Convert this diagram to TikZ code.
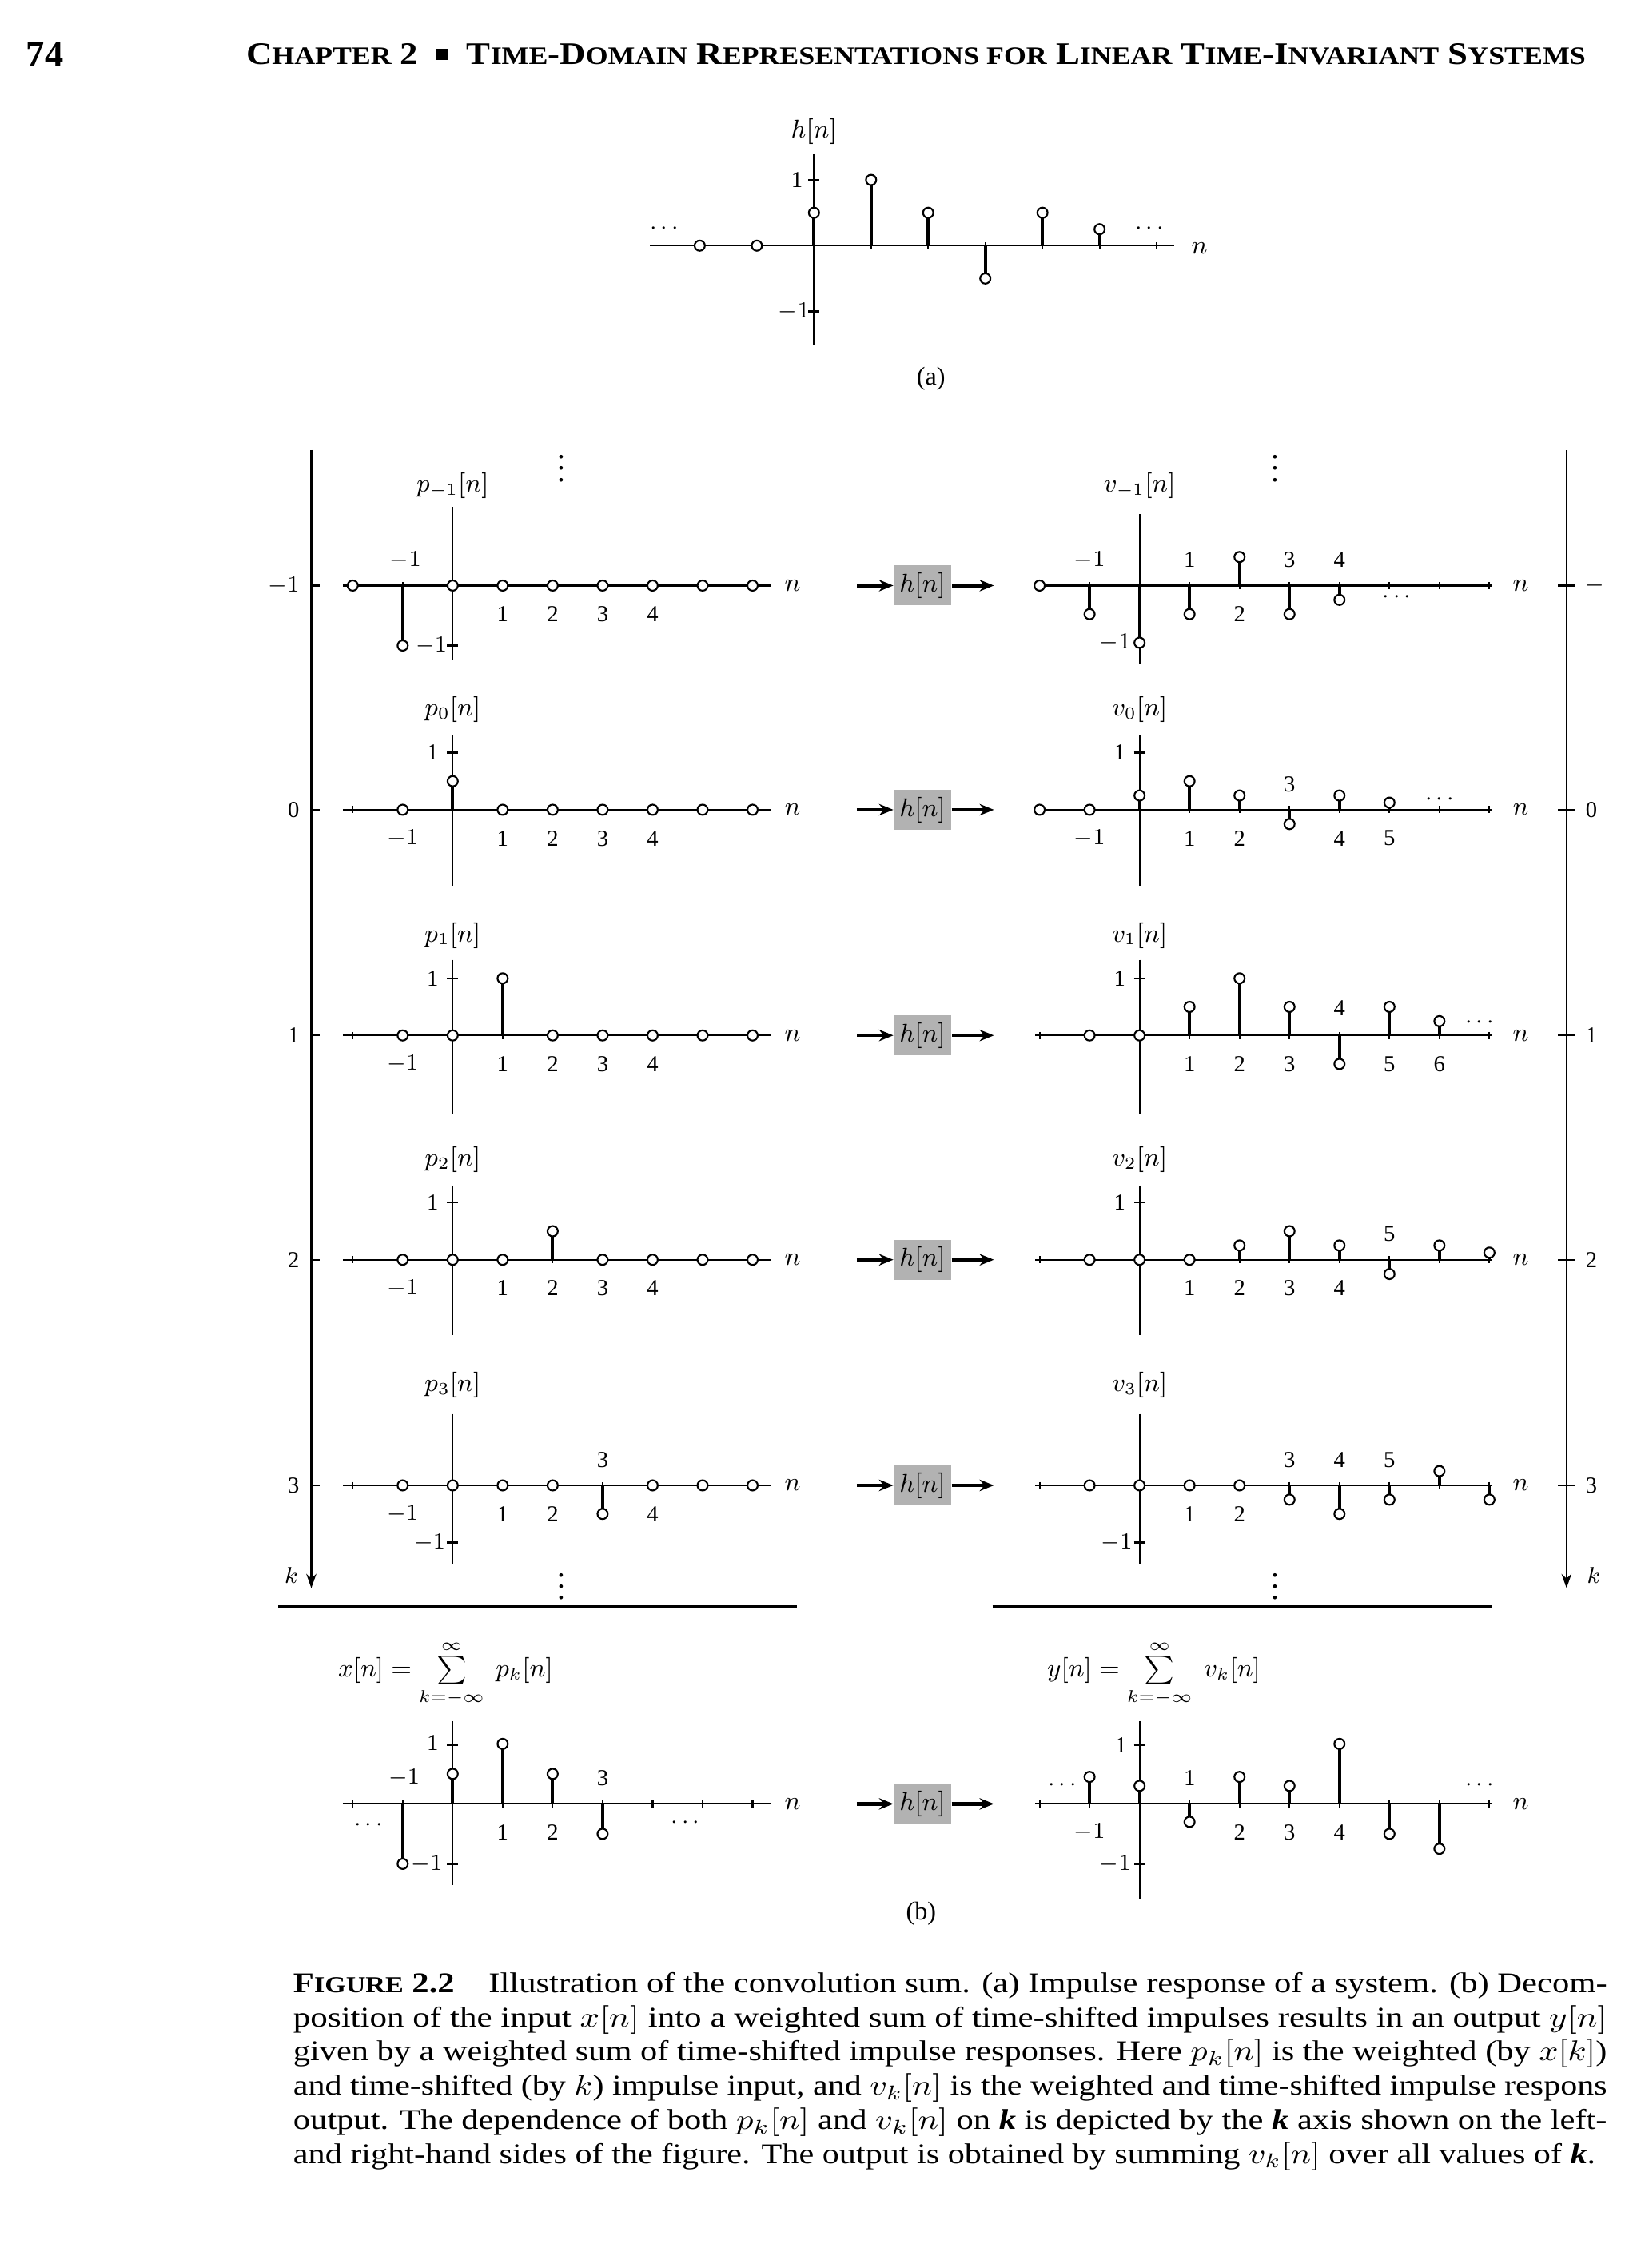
\documentclass[tikz,border=0pt]{standalone}
\usepackage{fontspec}
\setmainfont{Liberation Serif}
\usetikzlibrary{arrows.meta}
\tikzset{
  ax/.style={line width=0.6pt},
  stm/.style={line width=1.1pt},
  dot/.style={circle,draw,fill=white,inner sep=0pt,minimum size=3.6pt,line width=0.6pt},
  lab/.style={font=\fontsize{8}{9}\selectfont,inner sep=0pt},
  sysbox/.style={fill=gray!60,minimum width=20pt,minimum height=14pt,inner sep=1pt,font=\fontsize{9}{10}\selectfont},
  sarr/.style={-{Stealth[length=5pt,width=4pt]},line width=1.2pt},
  kax/.style={line width=0.7pt,-{Stealth[length=5pt,width=3.5pt]}},
  captxt/.style={anchor=west,inner sep=0pt,font=\fontsize{10}{12}\selectfont}
}
\newcommand\bk{\textbf{\textit{k}}}
\newcommand\sct[2]{#1{\scalebox{0.8}{#2}}}
% #1 ox, #2 oy, #3 spacing, #4 amplitude, #5 list n/v
\newcommand\stemrow[5]{%
  \foreach \n/\v in {#5}{%
    \draw[stm] ({#1+#3*\n},#2) -- ({#1+#3*\n},{#2-#4*\v}) node[dot]{};
  }%
}
\newcommand\tickrow[4]{% ox oy spacing list
  \foreach \n in {#4}{\draw[ax] ({#1+#3*\n},{#2-2.5}) -- ({#1+#3*\n},{#2+2.5});}%
}
\begin{document}
\begin{tikzpicture}[x=0.5pt,y=-0.5pt]
\useasboundingbox (0,0) rectangle (1146,1588);
% header
\node[anchor=west,inner sep=0pt,font=\bfseries\fontsize{13}{14}\selectfont] (pg) at (18,38) {74};
\node[anchor=west,inner sep=0pt,font=\bfseries\fontsize{11}{12}\selectfont] (hd) at (172,38) {\resizebox{469pt}{\height}{\sct{C}{HAPTER} 2 \ \raisebox{0.15em}{\rule{0.35em}{0.35em}} \ \sct{T}{IME}-\sct{D}{OMAIN} \sct{R}{EPRESENTATIONS FOR} \sct{L}{INEAR} \sct{T}{IME}-\sct{I}{NVARIANT} \sct{S}{YSTEMS}}};
% ---------- (a)
\draw[ax] (455,172) -- (822,172);
\draw[ax] (570,108) -- (570,242);
\draw[ax] (566,126) -- (574,126);
\draw[ax] (566,218) -- (574,218);
\node[lab] at (558,126) {1};
\node[lab] at (556,218) {$-1$};
\node[lab,font=\fontsize{9}{10}\selectfont] at (570,92) {$h[n]$};
\node[lab,font=\fontsize{9}{10}\selectfont] at (840,174) {$n$};
\tickrow{570}{172}{40}{-2,...,6}
\stemrow{570}{172}{40}{46}{-2/0,-1/0,0/0.5,1/1,2/0.5,3/-0.5,4/0.5,5/0.25}
\node[lab] at (465,160) {$\cdots$};
\node[lab] at (805,160) {$\cdots$};
\node[lab,font=\fontsize{9}{10}\selectfont] at (652,265) {(a)};
% ---------- k axes
\draw[kax] (218,315) -- (218,1112);
\draw[kax] (1097,315) -- (1097,1112);
\foreach \y/\t in {410/$-1$,567/0,725/1,882/2,1040/3}{
  \draw[ax] (218,\y) -- (224,\y);
  \node[lab,anchor=east] at (210,\y) {\t};
  \draw[ax] (1091,\y) -- (1103,\y);
}
\foreach \y/\t in {567/0,725/1,882/2,1040/3}{\node[lab,anchor=west] at (1110,\y) {\t};}
\node[lab,anchor=west] at (1110,410) {$-$};
\node[lab] at (204,1103) {$k$};
\node[lab] at (1116,1103) {$k$};
% vertical dots
\foreach \x/\y in {393/322,893/322,393/1105,893/1105}{\node[lab,font=\fontsize{11}{11}\selectfont] at (\x,\y) {$\vdots$};}
% ---------- left rows
\foreach \oy/\ya/\yb in {410/355/462,567/515/620,725/672/780,882/830/935,1040/990/1095}{
  \draw[ax] (240,\oy) -- (540,\oy);
  \draw[ax] (317,\ya) -- (317,\yb);
  \node[lab,font=\fontsize{9}{10}\selectfont] at (555,\oy) {$n$};
  \tickrow{317}{\oy}{35}{-2,...,6}
}
% right rows
\foreach \oy/\ya/\yb in {410/360/465,567/515/620,725/672/780,882/830/935,1040/990/1095}{
  \draw[ax] (725,\oy) -- (1045,\oy);
  \draw[ax] (798,\ya) -- (798,\yb);
  \node[lab,font=\fontsize{9}{10}\selectfont] at (1065,\oy) {$n$};
  \tickrow{798}{\oy}{35}{-2,...,7}
}
% middle systems
\foreach \oy [count=\i] in {410,567,725,882,1040,1263}{
  \node[sysbox] (h\i) at (646,\oy) {$h[n]$};
  \coordinate (ai\i) at (600,\oy);
  \coordinate (ao\i) at (696,\oy);
  \draw[sarr] (ai\i) -- (h\i.west);
  \draw[sarr] (h\i.east) -- (ao\i);
}
% row -1 left
\stemrow{317}{410}{35}{42}{-2/0,-1/-1,0/0,1/0,2/0,3/0,4/0,5/0,6/0}
\node[lab] at (284,392) {$-1$};
\foreach \n in {1,2,3,4}{\node[lab] at ({317+35*\n},430) {\n};}
\draw[ax] (313,452) -- (321,452);
\node[lab] at (302,452) {$-1$};
\node[lab,font=\fontsize{9}{10}\selectfont] at (317,340) {$p_{-1}[n]$};
% row 0 left
\stemrow{317}{567}{35}{40}{-1/0,0/0.5,1/0,2/0,3/0,4/0,5/0,6/0}
\foreach \n/\t in {-1/$-1$,1/1,2/2,3/3,4/4}{\node[lab] at ({317+35*\n},587) {\t};}
\draw[ax] (313,527) -- (321,527);
\node[lab] at (303,527) {1};
\node[lab,font=\fontsize{9}{10}\selectfont] at (317,497) {$p_0[n]$};
% row 1 left
\stemrow{317}{725}{35}{40}{-1/0,0/0,1/1,2/0,3/0,4/0,5/0,6/0}
\foreach \n/\t in {-1/$-1$,1/1,2/2,3/3,4/4}{\node[lab] at ({317+35*\n},745) {\t};}
\draw[ax] (313,685) -- (321,685);
\node[lab] at (303,685) {1};
\node[lab,font=\fontsize{9}{10}\selectfont] at (317,655) {$p_1[n]$};
% row 2 left
\stemrow{317}{882}{35}{40}{-1/0,0/0,1/0,2/0.5,3/0,4/0,5/0,6/0}
\foreach \n/\t in {-1/$-1$,1/1,2/2,3/3,4/4}{\node[lab] at ({317+35*\n},902) {\t};}
\draw[ax] (313,842) -- (321,842);
\node[lab] at (303,842) {1};
\node[lab,font=\fontsize{9}{10}\selectfont] at (317,812) {$p_2[n]$};
% row 3 left
\stemrow{317}{1040}{35}{40}{-1/0,0/0,1/0,2/0,3/-0.5,4/0,5/0,6/0}
\foreach \n/\t in {-1/$-1$,1/1,2/2,4/4}{\node[lab] at ({317+35*\n},1060) {\t};}
\node[lab] at (422,1022) {3};
\draw[ax] (313,1080) -- (321,1080);
\node[lab] at (301,1080) {$-1$};
\node[lab,font=\fontsize{9}{10}\selectfont] at (317,970) {$p_3[n]$};
% row -1 right
\stemrow{798}{410}{35}{40}{-2/0,-1/-0.5,0/-1,1/-0.5,2/0.5,3/-0.5,4/-0.25}
\foreach \n/\t in {-1/$-1$,1/1,3/3,4/4}{\node[lab] at ({798+35*\n},392) {\t};}
\node[lab] at (868,430) {2};
\node[lab] at (978,418) {$\cdots$};
\node[lab] at (781,450) {$-1$};
\node[lab,font=\fontsize{9}{10}\selectfont] at (798,340) {$v_{-1}[n]$};
% row 0 right
\stemrow{798}{567}{35}{40}{-2/0,-1/0,0/0.25,1/0.5,2/0.25,3/-0.25,4/0.25,5/0.125}
\foreach \n/\t in {-1/$-1$,1/1,2/2,4/4,5/5}{\node[lab] at ({798+35*\n},587) {\t};}
\node[lab] at (903,549) {3};
\node[lab] at (1008,560) {$\cdots$};
\draw[ax] (794,527) -- (802,527);
\node[lab] at (784,527) {1};
\node[lab,font=\fontsize{9}{10}\selectfont] at (798,497) {$v_0[n]$};
% row 1 right
\stemrow{798}{725}{35}{40}{-1/0,0/0,1/0.5,2/1,3/0.5,4/-0.5,5/0.5,6/0.25}
\foreach \n/\t in {1/1,2/2,3/3,5/5,6/6}{\node[lab] at ({798+35*\n},745) {\t};}
\node[lab] at (938,706) {4};
\node[lab] at (1036,716) {$\cdots$};
\draw[ax] (794,685) -- (802,685);
\node[lab] at (784,685) {1};
\node[lab,font=\fontsize{9}{10}\selectfont] at (798,655) {$v_1[n]$};
% row 2 right
\stemrow{798}{882}{35}{40}{-1/0,0/0,1/0,2/0.25,3/0.5,4/0.25,5/-0.25,6/0.25,7/0.125}
\foreach \n/\t in {1/1,2/2,3/3,4/4}{\node[lab] at ({798+35*\n},902) {\t};}
\node[lab] at (973,864) {5};
\draw[ax] (794,842) -- (802,842);
\node[lab] at (784,842) {1};
\node[lab,font=\fontsize{9}{10}\selectfont] at (798,812) {$v_2[n]$};
% row 3 right
\stemrow{798}{1040}{35}{40}{-1/0,0/0,1/0,2/0,3/-0.25,4/-0.5,5/-0.25,6/0.25,7/-0.25}
\foreach \n/\t in {1/1,2/2}{\node[lab] at ({798+35*\n},1060) {\t};}
\foreach \n/\t in {3/3,4/4,5/5}{\node[lab] at ({798+35*\n},1022) {\t};}
\draw[ax] (794,1080) -- (802,1080);
\node[lab] at (782,1080) {$-1$};
\node[lab,font=\fontsize{9}{10}\selectfont] at (798,970) {$v_3[n]$};
% separators
\draw[line width=0.8pt] (195,1125) -- (558,1125);
\draw[line width=0.8pt] (695,1125) -- (1045,1125);
% ---------- sum row left
\draw[ax] (240,1263) -- (540,1263);
\draw[ax] (317,1205) -- (317,1320);
\tickrow{317}{1263}{35}{-2,...,6}
\node[lab,font=\fontsize{9}{10}\selectfont] at (555,1263) {$n$};
\stemrow{317}{1263}{35}{42}{-1/-1,0/0.5,1/1,2/0.5,3/-0.5}
\node[lab] at (283,1245) {$-1$};
\node[lab] at (422,1245) {3};
\node[lab] at (352,1283) {1};
\node[lab] at (387,1283) {2};
\draw[ax] (313,1222) -- (321,1222);
\node[lab] at (303,1220) {1};
\draw[ax] (313,1305) -- (321,1305);
\node[lab] at (299,1305) {$-1$};
\node[lab] at (258,1278) {$\cdots$};
\node[lab] at (480,1276) {$\cdots$};
\node[lab,font=\fontsize{9}{10}\selectfont] at (312,1172) {$x[n]=\sum\limits_{k=-\infty}^{\infty}\; p_k[n]$};
% sum row right
\draw[ax] (725,1263) -- (1045,1263);
\draw[ax] (798,1205) -- (798,1330);
\tickrow{798}{1263}{35}{-2,...,7}
\node[lab,font=\fontsize{9}{10}\selectfont] at (1065,1263) {$n$};
\stemrow{798}{1263}{35}{42}{-1/0.45,0/0.3,1/-0.3,2/0.45,3/0.3,4/1,5/-0.5,6/-0.75}
\node[lab] at (833,1245) {1};
\foreach \n/\t in {-1/$-1$,2/2,3/3,4/4}{\node[lab] at ({798+35*\n},1283) {\t};}
\draw[ax] (794,1222) -- (802,1222);
\node[lab] at (785,1222) {1};
\draw[ax] (794,1305) -- (802,1305);
\node[lab] at (781,1305) {$-1$};
\node[lab] at (744,1250) {$\cdots$};
\node[lab] at (1036,1250) {$\cdots$};
\node[lab,font=\fontsize{9}{10}\selectfont] at (808,1172) {$y[n]=\sum\limits_{k=-\infty}^{\infty}\; v_k[n]$};
\node[lab,font=\fontsize{9}{10}\selectfont] at (645,1340) {(b)};
% ---------- caption
\node[captxt] (c1) at (205,1390) {\resizebox{460pt}{\height}{{\bfseries\sct{F}{IGURE} 2.2}\quad Illustration of the convolution sum. (a) Impulse response of a system. (b) Decom-}};
\node[captxt] (c2) at (205,1414) {\resizebox{460pt}{\height}{position of the input $x[n]$ into a weighted sum of time-shifted impulses results in an output $y[n]$}};
\node[captxt] (c3) at (205,1438) {\resizebox{460pt}{\height}{given by a weighted sum of time-shifted impulse responses. Here $p_k[n]$ is the weighted (by $x[k]$)}};
\node[captxt] (c4) at (205,1462) {\resizebox{460pt}{\height}{and time-shifted (by $k$) impulse input, and $v_k[n]$ is the weighted and time-shifted impulse respons}};
\node[captxt] (c5) at (205,1486) {\resizebox{460pt}{\height}{output. The dependence of both $p_k[n]$ and $v_k[n]$ on \bk{} is depicted by the \bk{} axis shown on the left-}};
\node[captxt] (c6) at (205,1510) {\resizebox{456pt}{\height}{and right-hand sides of the figure. The output is obtained by summing $v_k[n]$ over all values of \bk.}};
\end{tikzpicture}
\end{document}
